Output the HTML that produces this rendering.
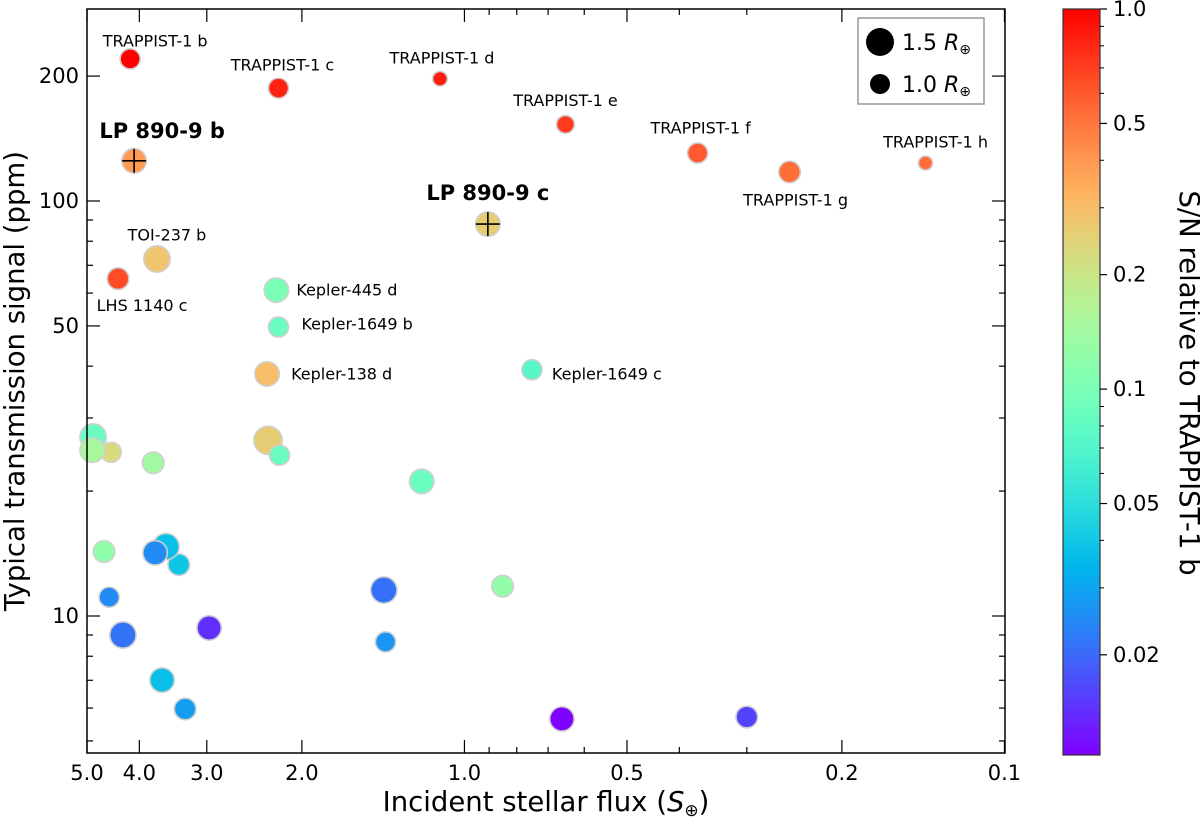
<!DOCTYPE html>
<html><head><meta charset="utf-8"><style>
html,body{margin:0;padding:0;background:#fff;}
svg{display:block;font-family:"DejaVu Sans","Liberation Sans",sans-serif;}
</style></head><body>
<svg id="chart" width="1200" height="817" viewBox="0 0 1200 817" xmlns="http://www.w3.org/2000/svg">
<defs><linearGradient id="cbgrad" x1="0" y1="1" x2="0" y2="0"></linearGradient></defs>
<rect x="0" y="0" width="1200" height="817" fill="#fff"/>
<g id="marks"></g>
<g id="axes"></g>
<g id="legend">
  <rect x="858" y="18" width="126" height="86" fill="#fff" stroke="#999" stroke-width="1.5"/>
  <circle cx="880" cy="42" r="14" fill="#000"/>
  <text x="902" y="50" font-size="22">1.5 <tspan font-style="italic">R</tspan><tspan font-size="14" dy="4">⊕</tspan></text>
  <circle cx="880" cy="84" r="10" fill="#000"/>
  <text x="902" y="92" font-size="22">1.0 <tspan font-style="italic">R</tspan><tspan font-size="14" dy="4">⊕</tspan></text>
</g>
<text x="0" y="0" font-size="27.5" text-anchor="middle" transform="translate(24,381) rotate(-90)">Typical transmission signal (ppm)</text>
<text x="546" y="811" font-size="27.5" text-anchor="middle">Incident stellar flux (<tspan font-style="italic">S</tspan><tspan font-size="17" dy="5">⊕</tspan><tspan dy="-5">)</tspan></text>
<g id="colorbar"></g>
<text x="0" y="0" font-size="27.5" text-anchor="middle" transform="translate(1180,383) rotate(90)">S/N relative to TRAPPIST-1 b</text>
</svg>
<script>
// ---- data ----
const names = ["TRAPPIST-1 b","TRAPPIST-1 c","TRAPPIST-1 d","TRAPPIST-1 e","TRAPPIST-1 f","TRAPPIST-1 g","TRAPPIST-1 h","LP 890-9 b","LP 890-9 c","TOI-237 b","LHS 1140 c","Kepler-445 d","Kepler-1649 b","Kepler-138 d","Kepler-1649 c","","","","","","","","","","","","","","","","","","","","",""];
const flux = [4.16,2.21,1.11,0.65,0.37,0.25,0.14,4.09,0.905,3.71,4.38,2.23,2.21,2.32,0.75,4.89,4.87,4.51,3.77,2.20,2.31,1.20,4.65,3.74,3.57,3.38,4.55,4.29,2.97,1.41,1.40,0.85,3.63,3.29,0.66,0.30];
const signal = [220,187,197,153,130.5,117.5,123.5,125,88,72.5,65,61,49.7,38.3,39.2,25.1,27.0,24.8,23.4,24.4,26.5,21.1,14.3,14.2,14.7,13.3,11.1,9.0,9.36,11.55,8.66,11.8,7.01,5.97,5.65,5.71];
const radius = [1.07,1.07,0.78,0.95,1.07,1.15,0.75,1.3,1.3,1.4,1.15,1.3,1.07,1.3,1.07,1.3,1.4,1.07,1.15,1.07,1.5,1.3,1.15,1.3,1.4,1.15,1.07,1.4,1.3,1.4,1.07,1.15,1.3,1.15,1.3,1.15];
const snr = [1.0,0.83,0.86,0.715,0.60,0.53,0.53,0.39,0.26,0.28,0.65,0.10,0.087,0.30,0.073,0.15,0.087,0.23,0.14,0.087,0.26,0.087,0.12,0.025,0.037,0.039,0.025,0.0214,0.0143,0.021,0.0268,0.125,0.037,0.0282,0.011,0.016];
const bold = [0,0,0,0,0,0,0,1,1,0,0,0,0,0,0];
const labelDx = [25,4,2,0,3,6,10,28,0,10,24,20,23,24,20];
const labelDy = [-18,-23,-21,-24,-25,28,-21,-30,-31,-24,27,0,-3,0,4];
const labelAnchor = ["middle","middle","middle","middle","middle","middle","middle","middle","middle","middle","middle","start","start","start","start"];
const xMajor = [5,4,3,2,1,0.5,0.2,0.1];
const xMajorLabels = ["5.0","4.0","3.0","2.0","1.0","0.5","0.2","0.1"];
const xMinor = [0.9,0.8,0.7,0.6,0.4,0.3];
const yMajor = [200,100,50,10];
const yMajorLabels = ["200","100","50","10"];
const yMinor = [90,80,70,60,40,30,20,9,8,7,6,5];
const cbMajor = [1.0,0.5,0.2,0.1,0.05,0.02];
const cbMajorLabels = ["1.0","0.5","0.2","0.1","0.05","0.02"];
const cbMinor = [0.9,0.8,0.7,0.6,0.4,0.3,0.09,0.08,0.07,0.06,0.04,0.03];

// ---- scales ----
const L=87,R=1005,T=9,B=753;
const X = v => L + (Math.log10(5) - Math.log10(v))*540;
const Y = v => 201 - (Math.log10(v) - 2)*415;
const CBT=9, CBB=755, CBL=1063, CBR=1100;
const cbMin = Math.log10(0.0109);
const CY = v => CBT + (0 - Math.log10(v))/(0 - cbMin)*(CBB-CBT);
const rpx = r => r*9.4;
function rainbow(t){
  const r=Math.min(1,Math.abs(2*t-0.5)), g=Math.sin(Math.PI*t), b=Math.cos(Math.PI*t/2);
  return `rgb(${Math.round(r*255)},${Math.round(Math.max(0,g)*255)},${Math.round(Math.max(0,b)*255)})`;
}
const colorOf = s => rainbow(Math.max(0,Math.min(1,(Math.log10(s)-cbMin)/(0-cbMin))));
const NS="http://www.w3.org/2000/svg";
function mk(tag,attrs,parent){const e=document.createElementNS(NS,tag);for(const k in attrs)e.setAttribute(k,attrs[k]);parent.appendChild(e);return e;}

// ---- points ----
const marks=document.getElementById('marks');
for(let i=flux.length-1;i>=0;i--){
  const cx=X(flux[i]), cy=Y(signal[i]);
  const c=mk('circle',{cx:cx,cy:cy,r:rpx(radius[i]),fill:colorOf(snr[i]),stroke:'#d0d0d0','stroke-width':1.6},marks);
  
  
  if(i<names.length && names[i]){
    if(bold[i]){
      const h=mk('line',{x1:cx-12,x2:cx+12,y1:cy,y2:cy,stroke:'#000','stroke-width':1.6},marks);
      
      
      const v=mk('line',{x1:cx,x2:cx,y1:cy-12,y2:cy+12,stroke:'#000','stroke-width':1.6},marks);
      
      
    }
    const t=mk('text',{x:cx+labelDx[i],y:cy+labelDy[i],'font-size':bold[i]?21:16,'font-weight':bold[i]?'bold':'normal','text-anchor':labelAnchor[i],'dominant-baseline':'central'},marks);
    t.textContent=names[i];
    
    
  }
}

// ---- axes ----
const axes=document.getElementById('axes');
const frame=mk('rect',{x:L,y:T,width:R-L,height:B-T,fill:'none',stroke:'#000','stroke-width':1.5},axes);


function xtick(v,len){
  const x=X(v);
  const a=mk('line',{x1:x,x2:x,y1:B,y2:B-len,stroke:'#000','stroke-width':1.2},axes);
  
  
  const b=mk('line',{x1:x,x2:x,y1:T,y2:T+len,stroke:'#000','stroke-width':1.2},axes);
  
  
}
function ytick(v,len){
  const y=Y(v);
  const a=mk('line',{x1:L,x2:L+len,y1:y,y2:y,stroke:'#000','stroke-width':1.2},axes);
  
  
  const b=mk('line',{x1:R,x2:R-len,y1:y,y2:y,stroke:'#000','stroke-width':1.2},axes);
  
  
}
xMajor.forEach((v,i)=>{
  xtick(v,13);
  const t=mk('text',{x:X(v),y:780,'font-size':21,'text-anchor':'middle'},axes);
  t.textContent=xMajorLabels[i];
  
  
});
xMinor.forEach(v=>xtick(v,6));
yMajor.forEach((v,i)=>{
  ytick(v,13);
  const t=mk('text',{x:79,y:Y(v)+7,'font-size':21,'text-anchor':'end'},axes);
  t.textContent=yMajorLabels[i];
  
  
});
yMinor.forEach(v=>ytick(v,6));

// ---- colorbar ----
const grad=document.getElementById('cbgrad');
for(let k=0;k<=20;k++){const t=k/20;mk('stop',{offset:t,'stop-color':rainbow(t)},grad);}
const cb=document.getElementById('colorbar');
const cbr=mk('rect',{x:CBL,y:CBT,width:CBR-CBL,height:CBB-CBT,fill:'url(#cbgrad)',stroke:'#333','stroke-width':1.2},cb);


cbMajor.forEach((v,i)=>{
  const y=CY(v);
  const l=mk('line',{x1:CBR,x2:CBR+7,y1:y,y2:y,stroke:'#000','stroke-width':1.2},cb);
  
  
  const t=mk('text',{x:CBR+13,y:y+7,'font-size':21},cb);
  t.textContent=cbMajorLabels[i];
  
  
});
cbMinor.forEach(v=>{
  const y=CY(v);
  const l=mk('line',{x1:CBR,x2:CBR+4,y1:y,y2:y,stroke:'#000','stroke-width':1},cb);
  
  
});
</script>
</body></html>
